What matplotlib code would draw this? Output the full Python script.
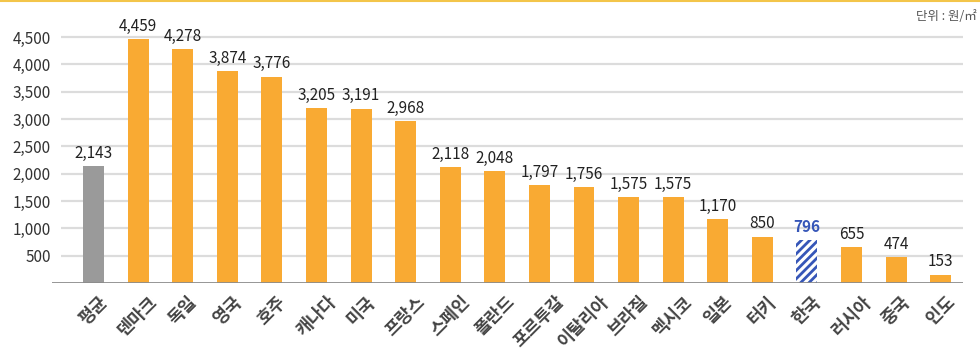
import matplotlib.pyplot as plt
import matplotlib.transforms as mtransforms
from matplotlib.lines import Line2D

plt.rcParams['font.family'] = ['Noto Sans CJK KR', 'DejaVu Sans']
plt.rcParams['hatch.linewidth'] = 2.0
plt.rcParams['hatch.color'] = '#3656B8'

countries = ['평균', '덴마크', '독일', '영국', '호주', '캐나다', '미국', '프랑스', '스페인', '폴란드',
             '포르투갈', '이탈리아', '브라질', '멕시코', '일본', '터키', '한국', '러시아', '중국', '인도']
values = [2143, 4459, 4278, 3874, 3776, 3205, 3191, 2968, 2118, 2048,
          1797, 1756, 1575, 1575, 1170, 850, 796, 655, 474, 153]
yticks = [500, 1000, 1500, 2000, 2500, 3000, 3500, 4000, 4500]

orange = '#F9AA33'
gray = '#9A9A9A'
blue = '#3656B8'

fig = plt.figure(figsize=(9.8, 3.56), dpi=100)
ax = fig.add_axes([0.0531, 0.205, 0.9296, 0.7678])

x = list(range(len(countries)))
colors = [gray if c == '평균' else orange for c in countries]
bars = ax.bar(x, values, width=0.47, color=colors, zorder=3)

# 한국 bar: hatched blue
ki = countries.index('한국')
bars[ki].set_facecolor('white')
bars[ki].set_hatch('////')
bars[ki].set_edgecolor(blue)
bars[ki].set_linewidth(0)

for i, v in enumerate(values):
    ax.annotate(f'{v:,}', (i, v), xytext=(0, 3), textcoords='offset points',
                ha='center', va='bottom', fontsize=11,
                color=blue if countries[i] == '한국' else '#222222',
                fontweight='bold' if countries[i] == '한국' else 'medium')

ax.set_xlim(-0.93, 19.5)
ax.set_ylim(0, 5000)

ax.hlines(yticks, -0.72, 19.5, colors='#DCDCDC', linewidth=1.6, zorder=1)
ax.axhline(0, color='#8C8C8C', linewidth=2, zorder=4)

ax.set_yticks(yticks)
ax.set_yticklabels([f'{t:,}' for t in yticks], fontsize=11, color='#333333')
ax.set_xticks(x)
ax.set_xticklabels(countries, rotation=45, ha='center', va='top',
                   fontsize=12.5, fontweight='bold', color='#444444')
shift = mtransforms.ScaledTranslation(-6 / 100, 0, fig.dpi_scale_trans)
for lab in ax.get_xticklabels():
    lab.set_transform(lab.get_transform() + shift)
ax.tick_params(axis='both', length=0)
ax.tick_params(axis='y', pad=1)
ax.tick_params(axis='x', pad=7)
for s in ax.spines.values():
    s.set_visible(False)

fig.add_artist(Line2D([0, 1], [0.997, 0.997], color='#F3C54A', linewidth=1.5,
                      transform=fig.transFigure))
fig.text(0.997, 0.955, '단위 : 원/㎡', ha='right', va='center', fontsize=9, color='#555555')

fig.savefig('out.png', dpi=100)
